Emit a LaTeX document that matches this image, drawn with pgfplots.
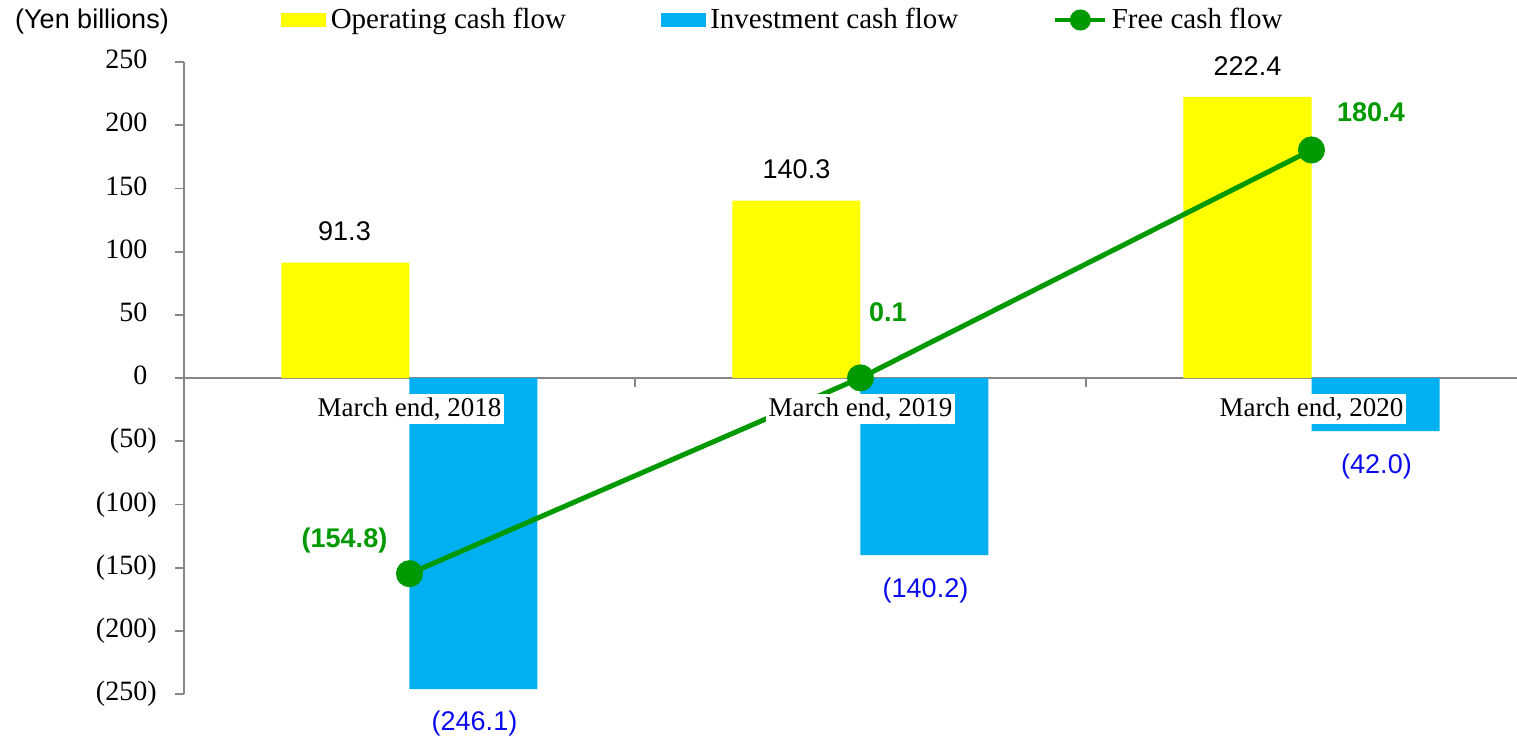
\documentclass[border=0pt]{standalone}
\usepackage{pgfplots}
\pgfplotsset{compat=1.18}
\usepackage{pgfplotstable}
\usepackage{fontspec}
\setmainfont{Liberation Serif}
\newfontfamily\arial{Liberation Sans}
\definecolor{ocf}{HTML}{FFFF00}
\definecolor{icf}{HTML}{00B0F0}
\definecolor{fcf}{HTML}{009900}
\definecolor{axgray}{HTML}{868686}
\definecolor{lblblue}{HTML}{0A0AF0}

\pgfplotstableread{
x y lbl dx dy
0 91.3 91.3 -32.5 15.5
1 140.3 140.3 -32 15.5
2 222.4 222.4 -32 15.5
}\opcf
\pgfplotstableread{
x y lbl dx dy
0 -246.1 (246.1) 32.5 -17
1 -140.2 (140.2) 32.5 -17.5
2 -42.0 (42.0) 32.5 -17.5
}\invcf
\pgfplotstableread{
x y lbl dx dy
0 -154.8 (154.8) -32.5 16.5
1 0.1 0.1 13.75 33
2 180.4 180.4 29.75 19
}\frcf

\begin{document}
\begin{tikzpicture}
\useasboundingbox (-92pt,-23pt) rectangle (666.5pt,347pt);
\begin{axis}[
  at={(0pt,0pt)}, anchor=south west,
  scale only axis, width=676.5pt, height=316pt,
  xmin=-0.5, xmax=2.5, ymin=-250, ymax=250,
  clip=false,
  axis y line*=left, axis x line*=middle,
  ytick={-250,-200,...,250},
  yticklabels={\mbox{(250)},\mbox{(200)},\mbox{(150)},\mbox{(100)},\mbox{(50)},\mbox{0\phantom{)}},\mbox{50\phantom{)}},\mbox{100\phantom{)}},\mbox{150\phantom{)}},\mbox{200\phantom{)}},\mbox{250\phantom{)}}},
  xtick={0.5,1.5}, xticklabels={},
  tick align=outside, major tick length=4.5pt,
  axis line style={axgray, line width=0.9pt},
  every tick/.style={axgray, line width=0.9pt},
  yticklabel style={font=\fontsize{14}{16}\selectfont, anchor=east, inner sep=0pt, xshift=-9pt},
  legend columns=3,
  legend style={draw=none, fill=none, at={(axis description cs:0,1)}, anchor=west,
    xshift=48.5pt, yshift=21pt, font=\fontsize{14.5}{16}\selectfont,
    inner sep=0pt, column sep=0pt,
    nodes={inner sep=0pt},
    /tikz/every odd column/.append style={column sep=2.2pt},
    /tikz/every even column/.append style={column sep=47.5pt}},
]
\addplot[ybar, bar width=64pt, bar shift=-32pt, fill=ocf, draw=none,
  point meta=explicit symbolic, nodes near coords,
  visualization depends on={\thisrow{dx}\as\dx},
  visualization depends on={\thisrow{dy}\as\dy},
  nodes near coords style={anchor=center, xshift=\dx pt, yshift=\dy pt, font=\arial\fontsize{13.5}{15}\selectfont, text=black},
  legend image code/.code={\fill[ocf] (0pt,-3.5pt) rectangle (22.5pt,3.5pt);}]
  table[x=x, y=y, meta=lbl] {\opcf};
\addlegendentry{Operating cash flow}
\addplot[ybar, bar width=64pt, bar shift=32pt, fill=icf, draw=none,
  point meta=explicit symbolic, nodes near coords,
  visualization depends on={\thisrow{dx}\as\dx},
  visualization depends on={\thisrow{dy}\as\dy},
  nodes near coords style={anchor=center, xshift=\dx pt, yshift=\dy pt, font=\arial\fontsize{13.5}{15}\selectfont, text=lblblue},
  legend image code/.code={\fill[icf] (0pt,-3.5pt) rectangle (22.5pt,3.5pt);}]
  table[x=x, y=y, meta=lbl] {\invcf};
\addlegendentry{Investment cash flow}
\addplot[fcf, line width=2.5pt, mark=*, mark size=5.5pt, mark options={fill=fcf, draw=fcf},
  point meta=explicit symbolic, nodes near coords,
  visualization depends on={\thisrow{dx}\as\dx},
  visualization depends on={\thisrow{dy}\as\dy},
  nodes near coords style={anchor=center, xshift=\dx pt, yshift=\dy pt, font=\arial\bfseries\fontsize{13.5}{15}\selectfont, text=fcf},
  legend image code/.code={\draw[fcf, line width=2pt] (0pt,0pt) -- (25pt,0pt); \fill[fcf] (12.5pt,0pt) circle (4pt);}]
  table[x=x, y=y, meta=lbl] {\frcf};
\addlegendentry{Free cash flow}
\node[fill=white, inner xsep=1.5pt, inner ysep=2pt, font=\fontsize{13.5}{15}\selectfont, yshift=-15.5pt] at (axis cs:0,0) {March end, 2018};
\node[fill=white, inner xsep=1.5pt, inner ysep=2pt, font=\fontsize{13.5}{15}\selectfont, yshift=-15.5pt] at (axis cs:1,0) {March end, 2019};
\node[fill=white, inner xsep=1.5pt, inner ysep=2pt, font=\fontsize{13.5}{15}\selectfont, yshift=-15.5pt] at (axis cs:2,0) {March end, 2020};
\end{axis}
\node[font=\arial\fontsize{13.5}{15}\selectfont] at (-46pt,336pt) {(Yen billions)};
\end{tikzpicture}
\end{document}
